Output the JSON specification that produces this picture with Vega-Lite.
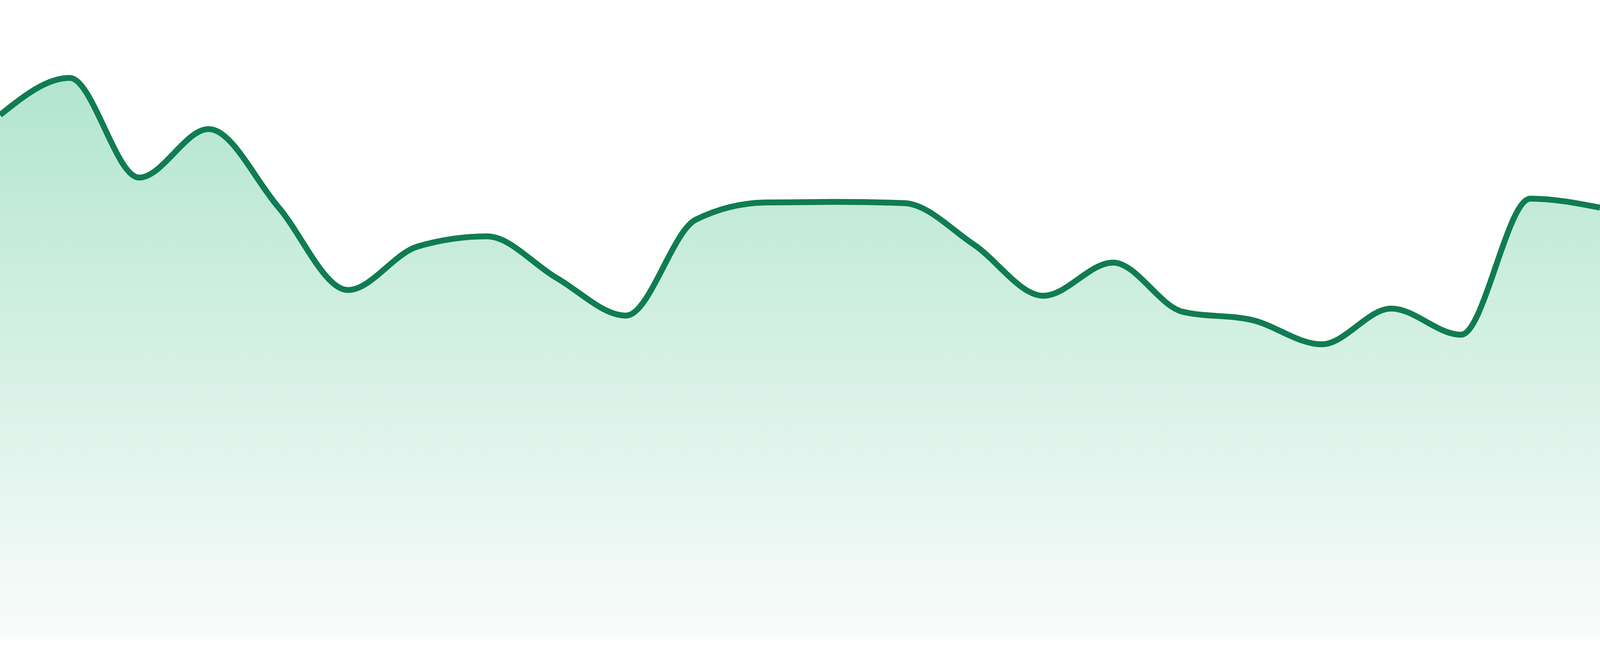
{
  "$schema": "https://vega.github.io/schema/vega-lite/v6.json",
  "description": "Smoothed area sparkline with a green gradient fill.",
  "width": "container",
  "height": 1680,
  "autosize": {"type": "fit", "contains": "padding"},
  "padding": 0,
  "background": "#ffffff",
  "config": {"view": {"stroke": null}},
  "data": {
    "values": [
      {"day": 1, "value": 82.0},
      {"day": 2, "value": 87.8},
      {"day": 3, "value": 72.2},
      {"day": 4, "value": 79.8},
      {"day": 5, "value": 67.6},
      {"day": 6, "value": 54.6},
      {"day": 7, "value": 61.4},
      {"day": 8, "value": 63.0},
      {"day": 9, "value": 56.5},
      {"day": 10, "value": 50.6},
      {"day": 11, "value": 65.6},
      {"day": 12, "value": 68.3},
      {"day": 13, "value": 68.4},
      {"day": 14, "value": 68.2},
      {"day": 15, "value": 61.7},
      {"day": 16, "value": 53.7},
      {"day": 17, "value": 58.9},
      {"day": 18, "value": 51.2},
      {"day": 19, "value": 49.9},
      {"day": 20, "value": 46.1},
      {"day": 21, "value": 51.7},
      {"day": 22, "value": 47.6},
      {"day": 23, "value": 68.9},
      {"day": 24, "value": 67.5}
    ]
  },
  "encoding": {
    "x": {
      "field": "day",
      "type": "quantitative",
      "scale": {"domain": [1, 24], "nice": false, "zero": false},
      "axis": null
    },
    "y": {
      "field": "value",
      "type": "quantitative",
      "scale": {"domain": [-2.69, 100], "nice": false},
      "axis": null
    }
  },
  "layer": [
    {
      "mark": {
        "type": "area",
        "clip": true,
        "interpolate": "monotone",
        "color": {
          "gradient": "linear",
          "x1": 0, "y1": 0, "x2": 0, "y2": 1,
          "stops": [
            {"offset": 0, "color": "#b2e5d0"},
            {"offset": 1, "color": "#f9fcfb"}
          ]
        }
      }
    },
    {
      "mark": {
        "type": "line",
        "clip": true,
        "interpolate": "monotone",
        "color": "#107c52",
        "strokeWidth": 15
      }
    }
  ]
}
